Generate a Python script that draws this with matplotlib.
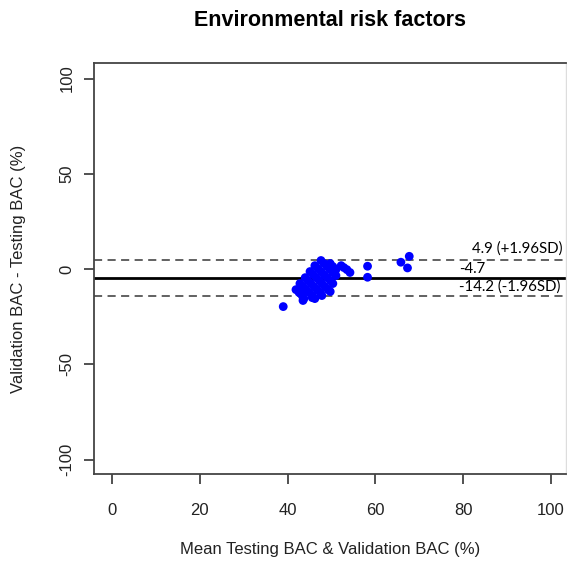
import matplotlib
matplotlib.use("Agg")
import matplotlib.pyplot as plt

# Bland-Altman: mean of testing & validation BAC vs their difference
mean_bac = [
    41.9, 42.6, 43.3, 43.7,
    42.8, 43.5, 44.2, 44.9, 45.6, 46.2,
    44.0, 44.6, 45.3, 46.0, 46.7, 47.4, 47.8,
    45.1, 45.8, 46.5, 47.2, 47.8, 48.5, 49.2, 49.7,
    46.2, 46.9, 47.6, 48.3, 49.0, 49.7, 50.3,
    47.6, 48.3, 49.0, 49.7, 50.3, 51.0,
    49.7, 50.3, 51.0,
    52.2, 52.8, 53.5, 54.2,
    39.0, 45.6, 43.5,
    58.2, 58.2, 65.8, 67.7, 67.3,
]
diff_bac = [
    -10.8, -12.3, -13.9, -15.5,
    -7.6, -9.2, -10.8, -12.3, -13.9, -15.5,
    -4.5, -6.0, -7.6, -9.2, -10.8, -12.3, -13.9,
    -1.3, -2.9, -4.5, -6.0, -7.6, -9.2, -10.8, -11.8,
    1.8, 0.3, -1.3, -2.9, -4.5, -6.0, -7.6,
    4.5, 2.9, 1.3, -0.3, -1.8, -3.4,
    2.9, 1.3, -0.3,
    1.8, 0.8, -0.3, -1.8,
    -19.7, -15.0, -16.5,
    1.5, -4.3, 3.6, 6.7, 0.6,
]

mean_diff = -4.7
upper_loa = 4.9
lower_loa = -14.2

x_ticks = [0, 20, 40, 60, 80, 100]
y_ticks = [-100, -50, 0, 50, 100]

W, H = 567, 562
fig = plt.figure(figsize=(W / 100, H / 100), dpi=100)
ax = fig.add_axes([94 / W, (H - 474) / H, (566 - 94) / W, (474 - 63) / H])

ax.scatter(mean_bac, diff_bac, s=40, color="#0000ff", edgecolors="none", zorder=3)

ax.axhline(mean_diff, color="black", lw=2.0, zorder=2)
ax.axhline(upper_loa, color="#555555", lw=1.3, ls=(0, (4.5, 3)), zorder=2)
ax.axhline(lower_loa, color="#555555", lw=1.3, ls=(0, (4.5, 3)), zorder=2)

ax.set_xlim(-4.1, 103.4)
ax.set_ylim(-107.6, 108.2)

ax.set_xticks(x_ticks)
ax.set_yticks(y_ticks)
ax.set_xticklabels([str(v) for v in x_ticks], fontsize=12, family="Liberation Sans")
ax.set_yticklabels([str(v) for v in y_ticks], fontsize=12, family="Liberation Sans",
                   rotation=90, va="center")
ax.tick_params(axis="both", length=7, width=1.2, color="#333333", labelcolor="#222222")
ax.tick_params(axis="x", pad=14)
ax.tick_params(axis="y", pad=7)

for side in ["left", "bottom", "top"]:
    ax.spines[side].set_color("#444444")
    ax.spines[side].set_linewidth(1.3)
ax.spines["right"].set_color("#dddddd")
ax.spines["right"].set_linewidth(1.0)

ax.set_xlabel("Mean Testing BAC & Validation BAC (%)", fontsize=12,
              family="Liberation Sans", color="#222222", labelpad=17)
ax.set_ylabel("Validation BAC - Testing BAC (%)", fontsize=12,
              family="Liberation Sans", color="#222222", labelpad=24)
fig.text(330 / W, 1 - 20 / H, "Environmental risk factors", ha="center", va="center",
         fontsize=15.5, fontweight="bold", family="Liberation Sans")

lab_font = dict(fontsize=10.8, family="Lato", color="black")
ax.text(102.6, upper_loa + 2, "4.9 (+1.96SD)", ha="right", va="bottom", **lab_font)
ax.text(79.0, mean_diff + 1.2, "-4.7", ha="left", va="bottom", **lab_font)
ax.text(79.0, lower_loa + 1.2, "-14.2 (-1.96SD)", ha="left", va="bottom", **lab_font)

fig.savefig("out.png", dpi=100)
